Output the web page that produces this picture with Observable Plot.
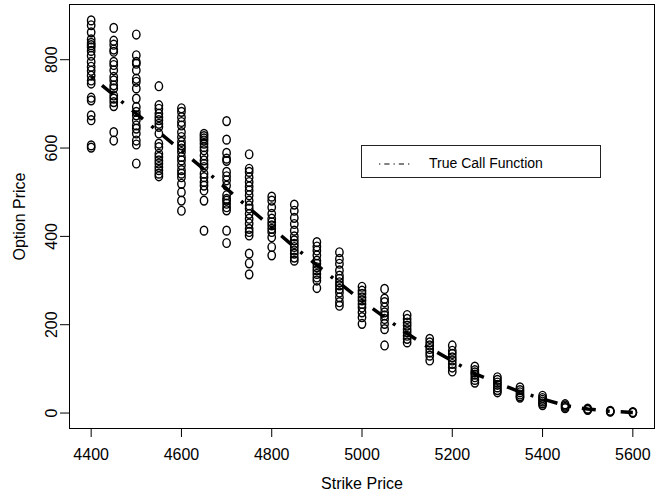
<!DOCTYPE html>
<html><head><meta charset="utf-8">
<script src="https://cdn.jsdelivr.net/npm/d3@7"></script>
<script src="https://cdn.jsdelivr.net/npm/@observablehq/plot@0.6"></script>
<style>
body{margin:0;background:#fff;}
#wrap{position:relative;width:656px;height:497px;font-family:"Liberation Sans",Arial,Helvetica,sans-serif;}
#legend{position:absolute;left:361px;top:145px;width:240px;height:33px;box-sizing:border-box;border:1px solid #222;background:#fff;}
#legend svg{position:absolute;left:17px;top:13px;}
#legend span{position:absolute;left:67px;top:10px;font-size:14px;line-height:14px;color:#000;white-space:nowrap;}
</style>
</head><body>
<div id="wrap"><div id="legend"><svg width="31" height="10"><line id="legline" x1="0" y1="5" x2="31" y2="5" stroke="#000" stroke-width="1" stroke-dasharray="1.3,4,5.2,4"></line></svg><span>True Call Function</span></div></div>
<script>
const strikes = [4400,4450,4500,4550,4600,4650,4700,4750,4800,4850,4900,4950,5000,5050,5100,5150,5200,5250,5300,5350,5400,5450,5500,5550,5600];
const prices = [
  [889,878,862,846,838,833,828,820,809,795,784,775,764,753,746,714,708,674,663,606,601],
  [872,843,834,823,818,795,788,776,761,753,742,735,719,712,704,695,636,617],
  [857,810,795,791,776,757,750,735,712,693,682,674,663,651,644,633,617,608,565],
  [740,697,689,678,670,663,655,648,633,610,602,587,580,572,565,557,550,542,536],
  [690,682,670,659,651,636,625,614,606,599,591,580,572,561,550,542,534,519,500,481,458],
  [632,627,622,617,610,602,595,583,572,564,557,542,534,523,515,504,481,413],
  [661,619,589,576,571,546,536,527,515,493,485,481,474,466,459,413,385],
  [586,553,546,534,523,513,504,493,481,470,463,451,440,429,417,410,402,361,339,314],
  [490,481,466,451,440,432,425,417,410,398,376,357],
  [472,458,442,428,413,400,391,383,376,368,361,352,345],
  [387,377,368,357,345,338,330,323,315,307,300,283],
  [364,349,338,323,311,304,296,289,281,273,262,251,243],
  [286,277,270,262,255,247,239,228,217,202],
  [281,259,251,239,228,221,213,202,190,153],
  [222,213,205,198,190,183,175,168,160],
  [168,160,153,145,137,130,119],
  [153,141,134,126,119,111,103,94],
  [105,97,92,87,81,75,69],
  [81,75,69,64,58,52,47],
  [58,52,47,42,38,35],
  [39,34,30,26,22,18],
  [20,17,14,11],
  [10,8,7],
  [5,4,3],
  [2,1,1]
];
const trueCall = [762,720,678,636,594,552,508,464,420,376,335,294,254,217,180,147,118,89,68,48,32,17,9,4,1.5];
const xTicks = [4400,4600,4800,5000,5200,5400,5600];
const yTicks = [0,200,400,600,800];

const rows = strikes.flatMap((k,i)=>prices[i].map(p=>({strike:k, price:p})));
const curve = strikes.map((k,i)=>({strike:k, price:trueCall[i]}));

const ellipse = {draw(ctx, size){
  const r = Math.sqrt(size/Math.PI), rx = r*0.84, ry = r, c = 0.5523;
  ctx.moveTo(rx,0);
  ctx.bezierCurveTo(rx, ry*c, rx*c, ry, 0, ry);
  ctx.bezierCurveTo(-rx*c, ry, -rx, ry*c, -rx, 0);
  ctx.bezierCurveTo(-rx, -ry*c, -rx*c, -ry, 0, -ry);
  ctx.bezierCurveTo(rx*c, -ry, rx, -ry*c, rx, 0);
  ctx.closePath();
}};

const chart = Plot.plot({
  width:656, height:497,
  marginLeft:69, marginRight:2, marginTop:4, marginBottom:69,
  style:{fontFamily:'"Liberation Sans",Arial,Helvetica,sans-serif', fontSize:"16px", color:"#000", background:"#fff"},
  x:{domain:[4352,5648]},
  y:{domain:[-35,925]},
  marks:[
    Plot.frame({stroke:"#000"}),
    Plot.axisX({ticks:xTicks, tickSize:9, tickPadding:11, fontSize:16, tickFormat:d=>String(d), label:"Strike Price", labelAnchor:"center", labelArrow:false, labelOffset:60}),
    Plot.axisY({ticks:yTicks, tickSize:9, tickPadding:4, tickRotate:-90, fontSize:16, tickFormat:d=>String(d), label:"Option Price", labelAnchor:"center", labelArrow:false, labelOffset:56}),
    Plot.dot(rows, {x:"strike", y:"price", r:4.4, symbol:ellipse, stroke:"#000", strokeWidth:1.4, fill:"none"}),
    Plot.line(curve, {x:"strike", y:"price", stroke:"#000", strokeWidth:3.5, strokeDasharray:"3,11,14,11", strokeLinecap:"butt"})
  ]
});
document.getElementById("wrap").prepend(chart);
</script>
</body></html>
